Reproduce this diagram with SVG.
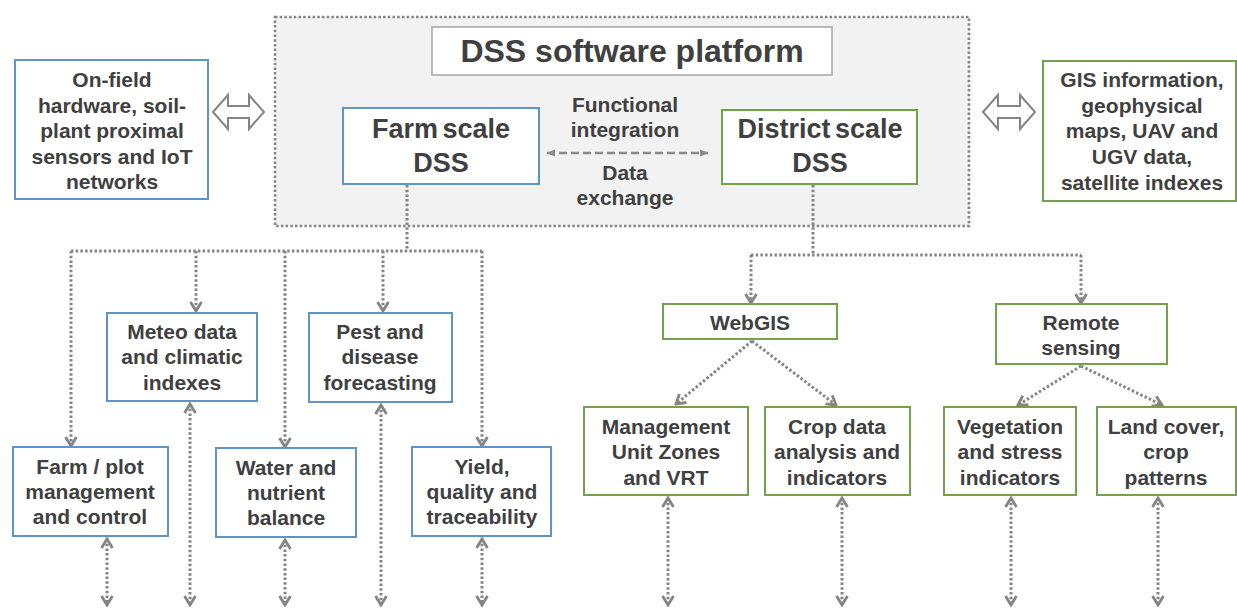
<svg xmlns="http://www.w3.org/2000/svg" width="1237" height="608" viewBox="0 0 1237 608">
<defs>
<style>
text{font-family:"Liberation Sans",Arial,sans-serif;font-weight:bold;fill:#404040;text-anchor:middle;font-size:21px}
.blue{fill:#fff;stroke:#5f94c8;stroke-width:2}
.green{fill:#fff;stroke:#72a34c;stroke-width:2}
.dot{fill:none;stroke:#858585;stroke-width:3;stroke-dasharray:2.5 2.2}
.dbl{fill:#fff;stroke:#858585;stroke-width:2}
.big{font-size:27px;word-spacing:-3px}
</style>
<marker id="chev" viewBox="0 0 14 14" refX="12" refY="7" markerWidth="14" markerHeight="14" markerUnits="userSpaceOnUse" orient="auto-start-reverse">
<path d="M3,1.5 L12,7 L3,12.5" fill="none" stroke="#858585" stroke-width="2.8"/>
</marker>
<marker id="tri" viewBox="0 0 10 10" refX="9" refY="5" markerWidth="9" markerHeight="9" markerUnits="userSpaceOnUse" orient="auto-start-reverse">
<path d="M0,1 L10,5 L0,9 Z" fill="#8c8c8c"/>
</marker>
</defs>
<rect width="1237" height="608" fill="#fff"/>

<g id="platform">
<rect x="275" y="17" width="694" height="209" class="dot" style="fill:#f2f2f2;stroke-width:2.6"/>
</g>
<g id="title">
<rect x="432" y="27" width="400" height="48" fill="#fff" stroke="#a6a6a6" stroke-width="1.5"/>
<text x="632" y="62" style="font-size:32px">DSS software platform</text>
</g>

<g id="connectors">
<line x1="547" y1="153" x2="708" y2="153" stroke="#8c8c8c" stroke-width="2.5" stroke-dasharray="8 4" marker-start="url(#tri)" marker-end="url(#tri)"/>
<path class="dot" d="M407,185 V251"/>
<path class="dot" d="M71,251 H482"/>
<path class="dot" d="M71,251 V446" marker-end="url(#chev)"/>
<path class="dot" d="M196,251 V311" marker-end="url(#chev)"/>
<path class="dot" d="M285,251 V447" marker-end="url(#chev)"/>
<path class="dot" d="M383,251 V311" marker-end="url(#chev)"/>
<path class="dot" d="M482,251 V446" marker-end="url(#chev)"/>
<path class="dot" d="M813,185 V255"/>
<path class="dot" d="M751,255 H1081"/>
<path class="dot" d="M751,255 V303" marker-end="url(#chev)"/>
<path class="dot" d="M1081,255 V303" marker-end="url(#chev)"/>
<path class="dot" d="M752,341 L676,404" marker-end="url(#chev)"/>
<path class="dot" d="M752,341 L836,405" marker-end="url(#chev)"/>
<path class="dot" d="M1081,366 L1018,405" marker-end="url(#chev)"/>
<path class="dot" d="M1081,366 L1162,405" marker-end="url(#chev)"/>
<path class="dot" d="M107,539 V605" marker-start="url(#chev)" marker-end="url(#chev)"/>
<path class="dot" d="M190,404 V605" marker-start="url(#chev)" marker-end="url(#chev)"/>
<path class="dot" d="M285,540 V605" marker-start="url(#chev)" marker-end="url(#chev)"/>
<path class="dot" d="M381,405 V605" marker-start="url(#chev)" marker-end="url(#chev)"/>
<path class="dot" d="M482,539 V605" marker-start="url(#chev)" marker-end="url(#chev)"/>
<path class="dot" d="M668,498 V605" marker-start="url(#chev)" marker-end="url(#chev)"/>
<path class="dot" d="M842,498 V605" marker-start="url(#chev)" marker-end="url(#chev)"/>
<path class="dot" d="M1011,498 V605" marker-start="url(#chev)" marker-end="url(#chev)"/>
<path class="dot" d="M1158,498 V605" marker-start="url(#chev)" marker-end="url(#chev)"/>
<path class="dbl" d="M213,112 L228,95 L228,106 L249,106 L249,95 L264,112 L249,129 L249,118 L228,118 L228,129 Z"/>
<path class="dbl" d="M983,112 L998,95 L998,106 L1020,106 L1020,95 L1035,112 L1020,129 L1020,118 L998,118 L998,129 Z"/>
</g>

<g id="exchange-label">
<text x="625" y="112">Functional</text>
<text x="625" y="137">integration</text>
<text x="625" y="180">Data</text>
<text x="625" y="205">exchange</text>
</g>

<g id="onfield">
<rect class="blue" x="15" y="60" width="193" height="139"/>
<text x="112" y="87">On-field</text>
<text x="112" y="113">hardware, soil-</text>
<text x="112" y="138">plant proximal</text>
<text x="112" y="164">sensors and IoT</text>
<text x="112" y="189">networks</text>
</g>

<g id="gis">
<rect class="green" x="1043" y="61" width="193" height="140"/>
<text x="1142" y="87">GIS information,</text>
<text x="1142" y="113">geophysical</text>
<text x="1142" y="138">maps, UAV and</text>
<text x="1142" y="164">UGV data,</text>
<text x="1142" y="190">satellite indexes</text>
</g>

<g id="farmdss">
<rect class="blue" x="343" y="108" width="196" height="76"/>
<text x="441" y="138" class="big">Farm scale</text>
<text x="441" y="172" class="big">DSS</text>
</g>

<g id="districtdss">
<rect class="green" x="722" y="110" width="195" height="74"/>
<text x="820" y="138" class="big">District scale</text>
<text x="820" y="172" class="big">DSS</text>
</g>

<g id="meteo">
<rect class="blue" x="107" y="313" width="150" height="88"/>
<text x="182" y="339">Meteo data</text>
<text x="182" y="364">and climatic</text>
<text x="182" y="390">indexes</text>
</g>

<g id="pest">
<rect class="blue" x="309" y="313" width="143" height="89"/>
<text x="380" y="339">Pest and</text>
<text x="380" y="364">disease</text>
<text x="380" y="390">forecasting</text>
</g>

<g id="farmplot">
<rect class="blue" x="13" y="447" width="155" height="89"/>
<text x="90" y="474">Farm / plot</text>
<text x="90" y="499">management</text>
<text x="90" y="524">and control</text>
</g>

<g id="water">
<rect class="blue" x="216" y="448" width="140" height="89"/>
<text x="286" y="475">Water and</text>
<text x="286" y="500">nutrient</text>
<text x="286" y="525">balance</text>
</g>

<g id="yield">
<rect class="blue" x="412" y="447" width="139" height="89"/>
<text x="482" y="474">Yield,</text>
<text x="482" y="499">quality and</text>
<text x="482" y="524">traceability</text>
</g>

<g id="webgis">
<rect class="green" x="663" y="304" width="174" height="35"/>
<text x="750" y="330">WebGIS</text>
</g>

<g id="remote">
<rect class="green" x="996" y="304" width="171" height="60"/>
<text x="1081" y="330">Remote</text>
<text x="1081" y="355">sensing</text>
</g>

<g id="muz">
<rect class="green" x="584" y="407" width="164" height="88"/>
<text x="666" y="434">Management</text>
<text x="666" y="459">Unit Zones</text>
<text x="666" y="485">and VRT</text>
</g>

<g id="cropdata">
<rect class="green" x="765" y="407" width="145" height="88"/>
<text x="837" y="434">Crop data</text>
<text x="837" y="459">analysis and</text>
<text x="837" y="485">indicators</text>
</g>

<g id="vegetation">
<rect class="green" x="944" y="407" width="132" height="88"/>
<text x="1010" y="434">Vegetation</text>
<text x="1010" y="459">and stress</text>
<text x="1010" y="485">indicators</text>
</g>

<g id="landcover">
<rect class="green" x="1097" y="407" width="139" height="88"/>
<text x="1166" y="434">Land cover,</text>
<text x="1166" y="459">crop</text>
<text x="1166" y="485">patterns</text>
</g>
</svg>
